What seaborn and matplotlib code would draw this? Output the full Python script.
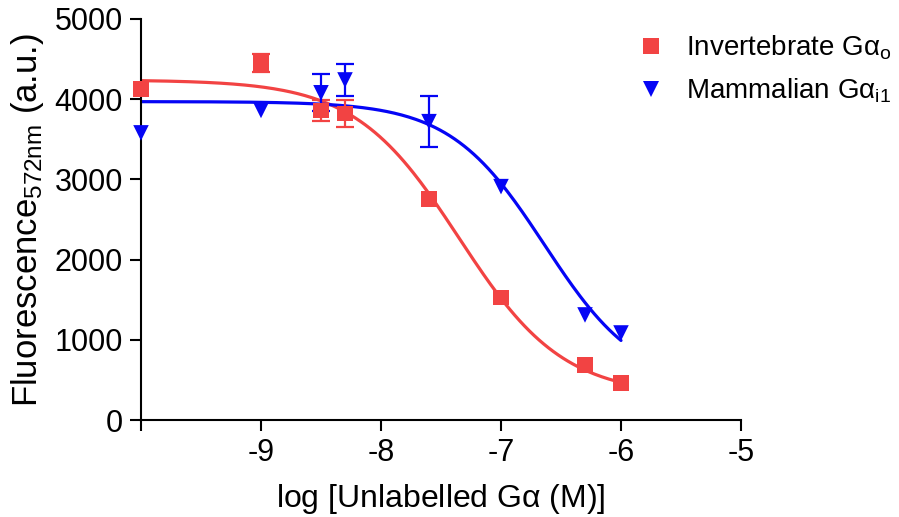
import numpy as np
import pandas as pd
import matplotlib
matplotlib.use("Agg")
import matplotlib.pyplot as plt
import seaborn as sns

# Data
log_conc = [-10, -9, -8.5, -8.3, -7.6, -7, -6.3, -6]
invert_vals = [4130, 4450, 3860, 3820, 2755, 1530, 685, 460]
invert_err = [0, 110, 130, 170, 0, 0, 0, 0]
mamm_vals = [3580, 3860, 4080, 4240, 3720, 2910, 1310, 1085]
mamm_err = [0, 0, 230, 200, 320, 0, 0, 0]

# Fitted dose-response parameters (top, bottom, logIC50, hill)
invert_fit = [4240, 300, -7.35, 1.0]
mamm_fit = [3970, 400, -6.638, 1.1]

series_names = ["Invertebrate G$\\alpha_{\\mathrm{o}}$", "Mammalian G$\\alpha_{\\mathrm{i1}}$"]
x_ticks = [-10, -9, -8, -7, -6, -5]
x_ticklabels = ["", "-9", "-8", "-7", "-6", "-5"]
y_ticks = [0, 1000, 2000, 3000, 4000, 5000]

red = "#F24343"
blue = "#0505F5"

sns.set_theme(style="ticks")
plt.rcParams["font.family"] = ["Liberation Sans", "DejaVu Sans"]
plt.rcParams["mathtext.fontset"] = "custom"
plt.rcParams["mathtext.rm"] = "Liberation Sans"
plt.rcParams["mathtext.it"] = "Liberation Sans"
plt.rcParams["text.color"] = "black"
plt.rcParams["axes.labelcolor"] = "black"

fig = plt.figure(figsize=(8.99, 5.17), dpi=100)
ax = fig.add_axes([141 / 899, 97 / 517, 600 / 899, 401 / 517])

def curve(params, xs):
    top, bottom, c, h = params
    return bottom + (top - bottom) / (1 + 10 ** (h * (xs - c)))

xs = np.linspace(-10, -6, 200)
curves = pd.DataFrame({
    "x": np.concatenate([xs, xs]),
    "y": np.concatenate([curve(invert_fit, xs), curve(mamm_fit, xs)]),
    "series": [series_names[0]] * len(xs) + [series_names[1]] * len(xs),
})
pts = pd.DataFrame({
    "x": log_conc + log_conc,
    "y": invert_vals + mamm_vals,
    "err": invert_err + mamm_err,
    "series": [series_names[0]] * len(log_conc) + [series_names[1]] * len(log_conc),
})
palette = {series_names[0]: red, series_names[1]: blue}

sns.lineplot(data=curves, x="x", y="y", hue="series", palette=palette,
             linewidth=2.3, ax=ax, legend=False)
for name, col in palette.items():
    sub = pts[(pts["series"] == name) & (pts["err"] > 0)]
    ax.errorbar(sub["x"], sub["y"], yerr=sub["err"], fmt="none", ecolor=col,
                elinewidth=1.6, capsize=6.5, capthick=1.6, zorder=3)
sns.scatterplot(data=pts, x="x", y="y", hue="series", style="series",
                markers={series_names[0]: "s", series_names[1]: "v"},
                palette=palette, s=125, linewidth=0, ax=ax, zorder=4)
for coll in ax.collections:
    coll.set_clip_on(False)

ax.set_xlim(-10, -5)
ax.set_ylim(0, 5000)
ax.set_xticks(x_ticks)
ax.set_xticklabels(x_ticklabels)
ax.set_yticks(y_ticks)
for s in ["top", "right"]:
    ax.spines[s].set_visible(False)
for s in ["left", "bottom"]:
    ax.spines[s].set_linewidth(1.5)
    ax.spines[s].set_color("black")
ax.tick_params(axis="both", direction="out", length=8, width=1.5, labelsize=22,
               colors="black", pad=5)
ax.set_xlabel("log [Unlabelled G$\\alpha$ (M)]", fontsize=23, labelpad=10)
ax.set_ylabel("Fluorescence$_{\\mathrm{572nm}}$ (a.u.)", fontsize=25, labelpad=6)

handles, labels = ax.get_legend_handles_labels()
leg = ax.legend(handles, labels, loc="upper left", bbox_to_anchor=(0.783, 1.025),
                frameon=False, fontsize=20, handletextpad=0.7, labelspacing=0.5,
                markerscale=1.0, handlelength=1.1)
for t in leg.get_texts():
    t.set_color("black")
ax.set_facecolor("white")
fig.patch.set_facecolor("white")
fig.savefig("out.png", dpi=100, facecolor="white")
